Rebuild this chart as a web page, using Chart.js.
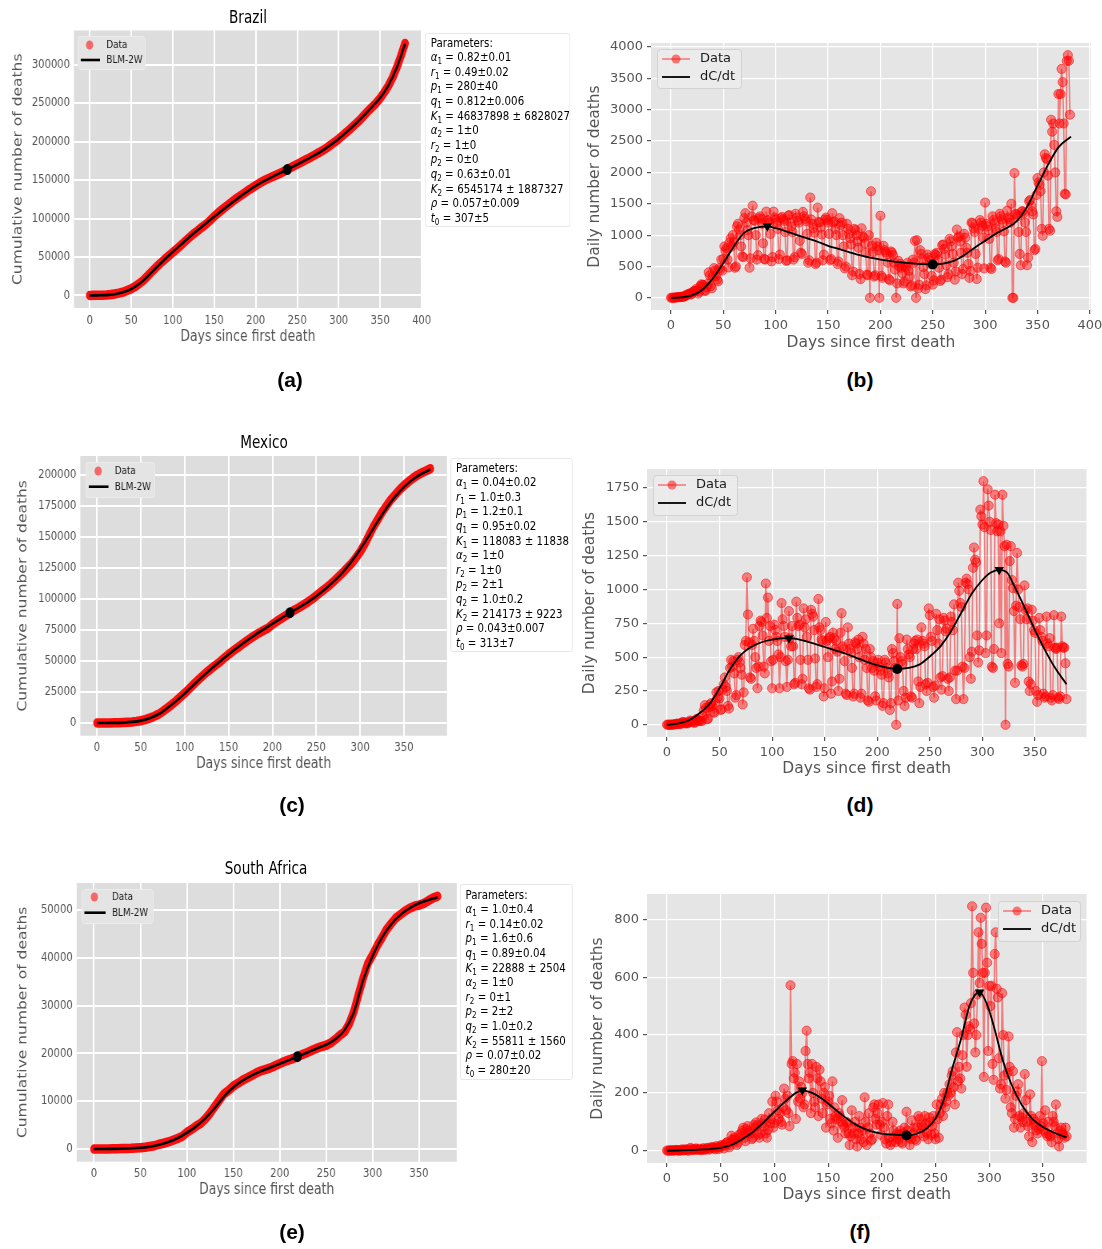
<!DOCTYPE html>
<html>
<head>
<meta charset="utf-8">
<title>BLM-2W fits: Brazil, Mexico, South Africa</title>
<script src="https://cdn.jsdelivr.net/npm/chart.js@4.4.1/dist/chart.umd.min.js"></script>
<style>
  body { margin: 0; background: #fff; }
  #page { position: relative; width: 1102px; height: 1249px; overflow: hidden; font-family: 'DejaVu Sans', sans-serif; }
  /* the left column of the original figure is squeezed horizontally */
  #left { position: absolute; left: 0; top: 0; width: 725px; height: 1249px; transform: scaleX(0.8); transform-origin: 0 0; }
  canvas { position: absolute; }
  .title { position: absolute; font-size: 17px; color: #000; transform: translate(-50%, -50%); white-space: nowrap; }
  .params { position: absolute; box-sizing: border-box; background: #fff; border: 1px solid #e4e4e4; border-radius: 3px; font-size: 12.8px; line-height: 14.6px; color: #000; white-space: nowrap; }
  .params sub { font-size: 70%; line-height: 0; vertical-align: -0.3em; }
  .tag { position: absolute; font-family: 'Liberation Sans', Arial, sans-serif; font-weight: bold; font-size: 21px; transform: translate(-50%, -50%); }
</style>
</head>
<body>
<div id="page">
  <div id="left"></div>
</div>
<script>
const FONT = "'DejaVu Sans', sans-serif";

// ---------------- Brazil ----------------
// daily deaths, day 0..381
const brDaily = [
  1,2,1,3,4,7,9, 12,13,11,20,15,19,23, 42,40,58,60,73,54,67, 99,105,114,141,115,68,99,
  188,217,204,206,115,113,166, 225,407,358,188,153,338,474, 435,346,290,262,474,449,610,
  435,620,820,751,790,610,485, 880,950,820,1000,890,480,500, 1140,1180,1090,1000,820,660,650,
  1270,1350,1200,1080,1000,480,630, 1300,1470,1240,1230,1000,610,680, 1270,1300,1260,1180,870,620,610,
  1375,1230,1240,1200,1020,580,650, 1375,1280,1250,1200,1100,620,690, 1270,1290,1250,1220,1050,590,600,
  1310,1320,1200,1140,1050,610,650, 1340,1280,1230,1200,910,720,700, 1370,1300,1260,1220,1020,560,600,
  1600,1250,1180,1110,1040,540,560, 1440,1210,1200,1120,1010,600,690, 1250,1280,1240,1200,1020,600,620,
  1350,1200,1220,1100,1000,540,580, 1270,1160,1200,1000,820,470,500, 1180,1100,1020,950,850,360,420,
  1100,1080,1000,900,800,380,300, 1110,980,960,870,720,370,360, 1000,0,1700,830,730,340,360,
  880,820,760,0,1310,350,320, 830,760,730,700,560,300,280, 740,720,680,560,450,0,230,
  590,500,540,480,390,230,260, 500,480,560,430,340,180,200, 610,560,910,0,920,150,210,
  760,700,620,490,380,140,200, 690,640,600,540,350,210,280, 700,680,720,600,480,270,290,
  840,850,780,690,520,330,380, 940,900,820,700,560,290,420, 1090,960,980,900,720,380,460,
  1020,960,800,720,540,320,430, 1200,1190,1110,1050,700,300,480, 1100,1240,1200,1150,960,470,1520,
  1180,1140,1080,940,480,460,1300, 1240,1200,1100,1050,600,620,1340, 1300,1250,1200,1060,580,560,1390,
  1280,1250,1200,1500,0,0,1990, 1340,1330,1300,1050,700,520,1380, 1380,1350,1200,1050,520,640,1540,
  1560,1470,1380,1330,760,780,1640, 1910,1840,1800,1700,1100,990,2000, 2290,2230,2210,1950,1100,1070,2840,
  2650,2780,2440,2000,1380,1290,3250, 2780,3250,3650,3440,2780,1660,1650, 3780,3870,3780,2920
];
// cumulative deaths, every 5 days from day 0
const brCum = [
  1,25,92,201,486,1056,1924,2906,4205,6412,
  8588,11653,15633,20082,25598,31199,36455,41828,46665,51271,
  55961,60632,65487,70398,75366,80120,84082,88539,92568,97418,
  102800,107500,112100,116300,120500,124700,128400,132200,136000,139400,
  143000,146300,149200,151900,154300,156700,159100,161900,164900,167700,
  170600,173400,176300,179000,182000,185100,188000,191400,195500,199300,
  203600,208246,212831,217664,222666,227563,233520,239245,244765,250036,
  256491,264325,272889,283400,296425,311550,327800
];
// BLM-2W cumulative fit, every 10 days
const brCumFit = [
  0,60,350,1500,4000,8400,15300,24900,35800,46500,
  56500,66200,75800,85000,93800,102400,110900,119400,127600,135300,
  142500,148600,154200,159500,164800,170300,176000,181900,188200,195400,
  203600,212900,222800,233700,245200,256900,273500,296300,327200
];
const brRateFitDays = [0,10,20,30,40,50,60,70,80,92,100,110,120,130,140,150,160,170,180,190,200,210,220,230,240,250,260,270,280,290,300,310,320,330,340,350,360,370,382];
const brRateFit = [0,8,40,130,310,555,820,1040,1115,1140,1110,1060,1005,950,895,830,780,730,680,640,610,585,565,550,538,532,545,590,680,800,910,1020,1110,1220,1450,1790,2120,2400,2570];
const brCumMark = [[238, 163700]];
const brPeaks = [[92, 1140]];
const brTroughs = [[250, 532]];
const brParams = [
  ['α','1','0.82±0.01'], ['r','1','0.49±0.02'], ['p','1','280±40'], ['q','1','0.812±0.006'],
  ['K','1','46837898 ± 6828027'], ['α','2','1±0'], ['r','2','1±0'], ['p','2','0±0'],
  ['q','2','0.63±0.01'], ['K','2','6545174 ± 1887327'], ['ρ','','0.057±0.009'], ['t','0','307±5']
];

// ---------------- Mexico ----------------
const mxDaily = [
  1,1,0,2,1,1,2, 4,4,8,8,9,7,5, 15,21,19,11,16,10,13, 20,32,24,25,22,14,21,
  43,38,28,33,30,27,70, 105,145,125,40,45,130,150, 160,140,95,90,165,240,200,
  250,195,110,115,260,300,350, 280,250,140,120,420,480,430, 470,380,200,220,480,500,460,
  420,370,150,240,590,620,1090, 815,610,350,340,590,710,620, 500,420,270,430,730,770,760,
  660,430,380,1044,790,940,620, 730,470,270,480,740,700,650, 620,520,270,500,900,780,730,
  650,470,280,480,840,640,580, 730,580,300,310,910,790,730, 740,480,300,340,860,720,780,
  650,480,270,260,850,820,800, 700,490,280,300,930,720,700, 630,620,210,270,760,620,500,
  640,650,230,320,680,640,560, 620,540,250,340,680,825,580, 560,470,230,220,720,600,560,
  530,420,210,230,610,600,560, 630,500,200,230,650,600,480, 560,420,180,170,560,500,420,
  470,400,210,180,460,480,430, 400,370,140,160,480,460,420, 380,350,110,160,560,530,470,
  420,0,893,180,640,500,470, 450,250,140,200,630,560,520, 500,210,200,560,600,620,560,
  630,320,160,280,720,620,600, 580,300,250,310,860,810,650, 620,280,200,290,820,700,600,
  780,350,260,360,790,770,690, 710,340,250,350,800,760,700, 890,400,190,400,1050,990,900,
  870,430,190,420,1050,1080,1040, 1000,500,340,540,1160,1310,1220, 1200,660,460,550,1590,1540,1480,
  1800,1460,530,660,1740,1620,1500, 1440,430,420,560,1700,1490,1430, 1480,750,1430,530,1700,1470,1320,
  0,1330,450,430,1210,1320,1070, 1010,840,310,880,1270,1000,870, 780,440,430,450,1030,850,780,
  860,320,250,300,850,770,700, 680,250,170,220,790,700,650, 620,230,200,210,800,600,580,
  640,200,180,220,810,570,560, 570,200,190,210,800,580,570, 570,455,190
];
const mxCum = [
  1,4,20,50,100,190,330,550,860,1300,
  1860,2700,3900,5300,7000,9400,12000,14650,17600,20800,
  24000,27500,31000,34400,37700,40900,43800,46500,49200,52300,
  55300,58000,60600,63200,65800,68300,70600,72700,74600,76500,
  79500,82000,84300,86500,88800,91000,92900,95100,97400,99800,
  102600,105500,108200,111000,114300,117700,121100,124800,128500,133000,
  138000,144000,151000,158000,164000,170000,175000,180000,184000,188000,
  191500,194500,197300,199700,201600,203300,205000
];
const mxCumFit = [
  0,20,100,330,860,1900,3900,7000,11900,17500,
  23800,30500,37200,43500,49500,55300,60800,66000,70900,75500,
  80000,84400,88900,93000,97300,102300,107900,114200,121400,130000,
  140000,151000,162500,173300,182600,190300,196300,200900,204300
];
const mxRateFitDays = [0,10,20,30,40,50,60,70,80,90,100,116,130,140,150,160,170,180,190,200,210,219,230,240,250,260,270,280,290,300,308,316,324,330,340,350,360,370,380];
const mxRateFit = [0,8,30,80,150,270,410,515,575,610,630,640,622,600,575,550,525,495,465,440,420,412,420,445,505,580,690,830,970,1070,1125,1145,1120,1030,870,700,545,410,300];
const mxCumMark = [[220, 88900]];
const mxPeaks = [[116, 640], [316, 1145]];
const mxTroughs = [[219, 412]];
const mxParams = [
  ['α','1','0.04±0.02'], ['r','1','1.0±0.3'], ['p','1','1.2±0.1'], ['q','1','0.95±0.02'],
  ['K','1','118083 ± 11838'], ['α','2','1±0'], ['r','2','1±0'], ['p','2','2±1'],
  ['q','2','1.0±0.2'], ['K','2','214173 ± 9223'], ['ρ','','0.043±0.007'], ['t','0','313±7']
];

// ---------------- South Africa ----------------
const saDaily = [
  1,0,1,1,2,0,1, 2,1,3,2,0,1,2, 5,1,3,5,4,2,0, 7,10,2,4,6,3,8,
  5,3,7,4,2,6,9, 3,5,8,10,4,7,12, 10,13,8,5,16,12,6, 12,18,20,15,8,22,27,
  30,25,12,20,52,40,38, 45,35,20,28,55,48,60, 70,80,45,33,75,85,62, 68,60,40,45,90,80,98,
  88,55,45,60,110,95,83, 108,60,45,72,130,95,110, 170,80,95,190,170,140,110, 130,100,90,150,215,180,140,
  190,130,85,572,300,310,250, 270,110,300,170,240,180,220, 200,150,160,345,415,300,250,
  270,130,300,200,170,150,290, 250,120,280,240,180,130,200, 220,80,160,170,190,110,95,
  240,70,150,120,110,45,130, 120,100,175,90,80,60,100, 95,60,20,50,140,80,60,
  100,40,15,60,120,80,40, 70,30,185,100,20,80,130, 60,35,40,150,160,110,90,
  130,160,90,55,100,165,80, 40,25,120,160,45,20,30, 100,70,50,30,60,40,55,
  70,30,25,60,80,55,135, 70,45,20,40,105,60,80, 40,35,80,120,110,60,90,
  80,50,120,95,60,40,115, 100,55,85,120,60,40,160, 110,45,130,160,180,120,200,
  150,170,200,190,230,200,260, 275,220,160,340,410,240,290, 250,215,330,400,495,470,290,
  400,430,420,510,845,615,440, 340,400,540,755,580,805,715, 615,255,615,840,650,345,570,
  500,570,300,245,680,755,560, 530,320,215,230,545,400,260, 180,210,270,395,290,150,130,
  275,80,110,190,205,230,120, 80,115,100,130,265,175,100, 85,50,195,120,30,110,90,
  100,70,60,75,120,85,310, 95,70,140,60,50,100,55, 50,30,120,100,85,160,60,
  40,15,70,80,60,55,45, 80,50
];
const saCum = [
  1,3,11,25,50,65,86,123,148,206,
  286,369,524,683,998,1210,1480,1831,2205,2657,
  3502,4079,4804,5368,6343,7497,8884,10210,11556,12264,
  13159,13743,14389,14889,15427,15953,16376,16667,16976,17408,
  17863,18309,18656,18968,19411,19809,20206,20671,21067,21439,
  21709,22206,22952,23827,24539,26276,28887,32425,35852,38858,
  40574,42550,44164,45912,47145,48313,49053,49784,50366,50803,
  51015,51356,51949,52500,52900
];
const saCumFit = [
  0,10,40,90,160,270,480,900,1480,2250,
  3400,4750,6450,8550,11000,12900,14300,15400,16300,17050,
  17850,18600,19400,20200,21050,21800,23000,24900,28700,35400,
  40400,44200,47000,49000,50400,51400,52100,52600
];
const saRateFitDays = [0,10,20,30,40,50,60,70,80,90,100,110,120,126,135,145,155,165,175,185,195,205,215,223,232,242,250,258,266,274,282,291,298,305,312,320,330,340,350,360,372];
const saRateFit = [0,1,2,4,6,10,20,40,65,98,135,170,200,209,200,178,148,118,92,74,63,57,55,53,58,78,112,180,290,390,505,548,505,420,320,235,160,110,82,63,46];
const saCumMark = [[219, 19320]];
const saPeaks = [[126, 209], [291, 548]];
const saTroughs = [[223, 53]];
const saParams = [
  ['α','1','1.0±0.4'], ['r','1','0.14±0.02'], ['p','1','1.6±0.6'], ['q','1','0.89±0.04'],
  ['K','1','22888 ± 2504'], ['α','2','1±0'], ['r','2','0±1'], ['p','2','2±2'],
  ['q','2','1.0±0.2'], ['K','2','55811 ± 1560'], ['ρ','','0.07±0.02'], ['t','0','280±20']
];

// ---------------- ticks ----------------
const ticks400 = [0,50,100,150,200,250,300,350,400];
const ticks350 = [0,50,100,150,200,250,300,350];
const brCumTicks = [0,50000,100000,150000,200000,250000,300000];
const mxCumTicks = [0,25000,50000,75000,100000,125000,150000,175000,200000];
const saCumTicks = [0,10000,20000,30000,40000,50000];
const brRateTicks = [0,500,1000,1500,2000,2500,3000,3500,4000];
const mxRateTicks = [0,250,500,750,1000,1250,1500,1750];
const saRateTicks = [0,200,400,600,800];

// ---------------- plugins ----------------
const panelBg = {
  id: 'panelBg',
  beforeDraw(chart, args, opts) {
    const a = chart.chartArea;
    const ctx = chart.ctx;
    ctx.save();
    ctx.fillStyle = opts.color;
    ctx.fillRect(a.left, a.top, a.right - a.left, a.bottom - a.top);
    ctx.restore();
  }
};

const frameLegend = {
  id: 'frameLegend',
  afterDatasetsDraw(chart, args, o) {
    if (!o.box) return;
    const ctx = chart.ctx;
    const [bx, by, bw, bh] = o.box;
    ctx.save();
    ctx.fillStyle = o.fill;
    ctx.strokeStyle = o.edge;
    ctx.lineWidth = 1;
    ctx.beginPath();
    ctx.roundRect(bx + 0.5, by + 0.5, bw, bh, 3);
    ctx.fill();
    ctx.stroke();
    ctx.font = o.size + 'px ' + FONT;
    ctx.textBaseline = 'middle';
    o.items.forEach(function (it) {
      const x0 = o.sample[0], x1 = o.sample[1];
      if (it.line) {
        ctx.strokeStyle = it.line;
        ctx.lineWidth = it.width;
        ctx.beginPath();
        ctx.moveTo(x0, it.y);
        ctx.lineTo(x1, it.y);
        ctx.stroke();
      }
      if (it.dot) {
        ctx.fillStyle = it.dot;
        ctx.beginPath();
        ctx.arc(it.dotX || (x0 + x1) / 2, it.y, it.r, 0, Math.PI * 2);
        ctx.fill();
      }
      ctx.fillStyle = '#1a1a1a';
      ctx.fillText(it.text, o.textX, it.y);
    });
    ctx.restore();
  }
};

function pts(days, vals) {
  return vals.map((v, i) => ({ x: days[i], y: v }));
}
function stepPts(step, vals) {
  return vals.map((v, i) => ({ x: i * step, y: v }));
}
function pairPts(list) {
  return list.map(p => ({ x: p[0], y: p[1] }));
}

function scales(p) {
  const narrow = p.squish;
  const tickFont = { family: FONT, size: narrow ? 12.5 : 13 };
  const titleFont = { family: FONT, size: 15.5 };
  const grid = {
    color: '#fff',
    lineWidth: narrow ? 2 : 1.2,
    drawTicks: !narrow,
    tickLength: 4,
    tickColor: '#555'
  };
  return {
    x: {
      type: 'linear',
      min: p.xRange[0], max: p.xRange[1],
      afterBuildTicks: s => { s.ticks = p.xTicks.map(v => ({ value: v })); },
      afterFit: s => { s.height = p.xh; s.paddingLeft = 0; s.paddingRight = 0; },
      grid: grid,
      border: { display: false },
      ticks: { color: '#555', font: tickFont, padding: narrow ? 5 : 3.5, maxRotation: 0, autoSkip: false, callback: v => String(v) },
      title: { display: true, text: 'Days since first death', color: '#555', font: titleFont, padding: { top: 0, bottom: p.xtPad } }
    },
    y: {
      type: 'linear',
      min: p.yRange[0], max: p.yRange[1],
      afterBuildTicks: s => { s.ticks = p.yTicks.map(v => ({ value: v })); },
      afterFit: s => { s.width = p.yw; s.paddingTop = 0; s.paddingBottom = 0; },
      grid: grid,
      border: { display: false },
      ticks: { color: '#555', font: tickFont, padding: narrow ? 5 : 4, autoSkip: false, callback: v => String(v) },
      title: { display: true, text: p.yTitle, color: '#555', font: titleFont, padding: { top: p.ytPad, bottom: 0 } }
    }
  };
}

function panel(p) {
  const host = document.getElementById(p.squish ? 'left' : 'page');
  const [cx, cy, cw, ch] = p.box;
  const [pl, pt, pr, pb] = p.plot;
  p.yw = pl - cx;
  p.xh = cy + ch - pb;
  const canvas = document.createElement('canvas');
  canvas.width = cw;
  canvas.height = ch;
  canvas.style.left = cx + 'px';
  canvas.style.top = cy + 'px';
  canvas.style.width = cw + 'px';
  canvas.style.height = ch + 'px';
  host.appendChild(canvas);

  new Chart(canvas, {
    type: 'line',
    data: { datasets: p.datasets },
    options: {
      responsive: false,
      animation: false,
      events: [],
      layout: { padding: { left: 0, top: pt - cy, right: cx + cw - pr, bottom: 0 } },
      plugins: {
        legend: { display: false },
        tooltip: { enabled: false },
        panelBg: { color: p.squish ? '#dddddd' : '#e5e5e5' },
        frameLegend: p.legend
      },
      scales: scales(p)
    },
    plugins: [panelBg, frameLegend]
  });
}

// the cumulative data are drawn as a thick band of red, like the dense overlapping dots of the original
function cumDatasets(cum, fit, mark) {
  return [
    { data: stepPts(5, cum), borderColor: 'rgb(255,12,12)', borderWidth: 9.5, borderCapStyle: 'round', borderJoinStyle: 'round',
      pointRadius: 0, order: 3 },
    { data: stepPts(10, fit), borderColor: '#000', borderWidth: 2.6, pointRadius: 0, cubicInterpolationMode: 'monotone', order: 2 },
    { data: pairPts(mark), showLine: false, pointRadius: 5.5, pointBackgroundColor: '#000', pointBorderWidth: 0, order: 1 }
  ];
}

function rateDatasets(daily, fitDays, fit, peaks, troughs) {
  return [
    { data: daily.map((v, i) => ({ x: i, y: v })), borderColor: 'rgba(255,0,0,0.45)', borderWidth: 1.5,
      pointRadius: 4.6, pointBackgroundColor: 'rgba(255,0,0,0.45)', pointBorderColor: 'rgba(255,0,0,0.5)', pointBorderWidth: 1, order: 3 },
    { data: pts(fitDays, fit), borderColor: '#000', borderWidth: 1.8, pointRadius: 0, cubicInterpolationMode: 'monotone', order: 2 },
    { data: pairPts(peaks), showLine: false, pointStyle: 'triangle', pointRotation: 180, pointRadius: 5.5, pointBackgroundColor: '#000', pointBorderWidth: 0, order: 1 },
    { data: pairPts(troughs), showLine: false, pointRadius: 5, pointBackgroundColor: '#000', pointBorderWidth: 0, order: 1 }
  ];
}

function leftLegend(box, dotX, dotY, lineX, lineY, textX) {
  return {
    box: box, fill: '#e4e4e4', edge: '#ececec', size: 11, sample: lineX, textX: textX,
    items: [
      { text: 'Data', y: dotY, dot: 'rgba(255,0,0,0.55)', dotX: dotX, r: 4.5 },
      { text: 'BLM-2W', y: lineY, line: '#000', width: 2.6 }
    ]
  };
}
function rightLegend(box, lineX, y1, y2, textX) {
  return {
    box: box, fill: 'rgba(236,236,236,0.92)', edge: '#d2d2d2', size: 13, sample: lineX, textX: textX,
    items: [
      { text: 'Data', y: y1, line: 'rgba(255,0,0,0.5)', width: 1.5, dot: 'rgba(255,0,0,0.5)', r: 4.5 },
      { text: 'dC/dt', y: y2, line: '#000', width: 1.8 }
    ]
  };
}

// ---------------- left column (cumulative) ----------------
panel({
  squish: true, box: [0, 25, 560, 325], plot: [92.5, 30, 527.5, 308],
  xRange: [-19, 400.4], yRange: [-16400, 344600], xTicks: ticks400, yTicks: brCumTicks,
  yTitle: 'Cumulative number of deaths', xtPad: 3.7, ytPad: 13.2,
  datasets: cumDatasets(brCum, brCumFit, brCumMark),
  legend: leftLegend([97, 11, 84, 33], 112, 20, [101, 125], 35, 133)
});
panel({
  squish: true, box: [0, 450, 590, 330], plot: [100.4, 456, 558.75, 735.7],
  xRange: [-19, 399], yRange: [-10250, 215250], xTicks: ticks350, yTicks: mxCumTicks,
  yTitle: 'Cumulative number of deaths', xtPad: 6.7, ytPad: 19.4,
  datasets: cumDatasets(mxCum, mxCumFit, mxCumMark),
  legend: leftLegend([107, 12, 86, 35], 122.7, 21, [111, 135.6], 36.7, 143.5)
});
panel({
  squish: true, box: [0, 875, 600, 330], plot: [95.9, 883, 570.9, 1161.7],
  xRange: [-18.6, 390.6], yRange: [-2650, 55650], xTicks: ticks350, yTicks: saCumTicks,
  yTitle: 'Cumulative number of deaths', xtPad: 5.7, ytPad: 19.7,
  datasets: cumDatasets(saCum, saCumFit, saCumMark),
  legend: leftLegend([102, 14, 89, 34], 118, 22, [105.5, 132], 37.7, 140)
});

// ---------------- right column (daily) ----------------
panel({
  squish: false, box: [580, 35, 522, 325], plot: [651, 43, 1091, 310],
  xRange: [-19.1, 401.1], yRange: [-193.5, 4063.5], xTicks: ticks400, yTicks: brRateTicks,
  yTitle: 'Daily number of deaths', xtPad: 7.7, ytPad: 5.7,
  datasets: rateDatasets(brDaily, brRateFitDays, brRateFit, brPeaks, brTroughs),
  legend: rightLegend([77, 14, 84, 39], [82, 110], 24, 42, 120)
});
panel({
  squish: false, box: [580, 460, 522, 330], plot: [647, 469, 1086.5, 737],
  xRange: [-19, 399], yRange: [-90, 1890], xTicks: ticks350, yTicks: mxRateTicks,
  yTitle: 'Daily number of deaths', xtPad: 11.7, ytPad: 0.7,
  datasets: rateDatasets(mxDaily, mxRateFitDays, mxRateFit, mxPeaks, mxTroughs),
  legend: rightLegend([73, 15, 84, 40], [78, 106], 25, 43, 116)
});
panel({
  squish: false, box: [580, 885, 522, 330], plot: [647, 894, 1086.6, 1163],
  xRange: [-18.6, 390.6], yRange: [-42.25, 887.25], xTicks: ticks350, yTicks: saRateTicks,
  yTitle: 'Daily number of deaths', xtPad: 10.7, ytPad: 8.7,
  datasets: rateDatasets(saDaily, saRateFitDays, saRateFit, saPeaks, saTroughs),
  legend: rightLegend([418, 16, 82, 40], [423, 451], 26, 44, 461)
});

// ---------------- text: titles, parameter boxes, panel tags ----------------
function addText(hostId, cls, x, y, html) {
  const d = document.createElement('div');
  d.className = cls;
  d.style.left = x + 'px';
  d.style.top = y + 'px';
  d.innerHTML = html;
  document.getElementById(hostId).appendChild(d);
  return d;
}
addText('left', 'title', 310, 17, 'Brazil');
addText('left', 'title', 330, 442, 'Mexico');
addText('left', 'title', 332.5, 868, 'South Africa');

function paramBox(x, y, w, h, padTop, padLeft, rows) {
  const lines = ['Parameters:'].concat(rows.map(r =>
    '<i>' + r[0] + '</i>' + (r[1] ? '<sub>' + r[1] + '</sub>' : '') + ' = ' + r[2]));
  const d = addText('left', 'params', x, y, lines.map(l => '<div>' + l + '</div>').join(''));
  d.style.width = w + 'px';
  d.style.height = h + 'px';
  d.style.paddingTop = padTop + 'px';
  d.style.paddingLeft = padLeft + 'px';
}
paramBox(531, 33, 181.5, 194, 1.7, 6.5, brParams);
paramBox(562.5, 458, 153.5, 194, 1.7, 6.5, mxParams);
paramBox(575, 884, 141, 196, 2.7, 6, saParams);

[['(a)', 290, 380], ['(b)', 860, 380], ['(c)', 292, 805], ['(d)', 860, 805], ['(e)', 292, 1232], ['(f)', 860, 1232]]
  .forEach(t => addText('page', 'tag', t[1], t[2], t[0]));
</script>
</body>
</html>
